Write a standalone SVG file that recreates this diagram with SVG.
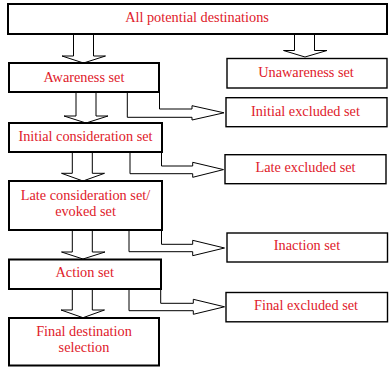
<svg xmlns="http://www.w3.org/2000/svg" width="389" height="367" viewBox="0 0 389 367">
<style>
.bx{fill:#fff;stroke:#000;stroke-width:2}
.bs{fill:#fff;stroke:#000;stroke-width:1.4}
.ar{fill:#fff;stroke:#000;stroke-width:1;stroke-linejoin:miter}
text{font-family:"Liberation Serif","Times New Roman",serif;font-size:14.3px;fill:#e0202a;text-anchor:middle}
</style>
<rect width="389" height="367" fill="#fff"/>
<g id="connectors">
<polygon class="ar" points="73.5,34 93.5,34 93.5,56 105.5,56 83.5,63 62,56 73.5,56"/>
<polygon class="ar" points="294.5,34 314.5,34 314.5,50.5 327,50.5 305,57 283.5,50.5 294.5,50.5"/>
<polygon class="ar" points="76,92 96,92 96,116 108,116 86,123 64,116 76,116"/>
<polygon class="ar" points="72.3,152 92.3,152 92.3,173.3 104.5,173.3 83,181 61.5,173.3 72.3,173.3"/>
<polygon class="ar" points="72.3,230 92.3,230 92.3,252 105,252 83,259 61.5,252 72.3,252"/>
<polygon class="ar" points="72.3,289 92.3,289 92.3,310 104.5,310 83,317.7 61,310 72.3,310"/>
<polygon class="ar" points="159.5,92 159.5,109 192,109 192,105.7 224,112.8 192,120 192,117.3 127.3,117.3 127.3,92"/>
<polygon class="ar" points="161.5,152 161.5,166 192.7,166 192.7,162.3 223.5,169.6 192.7,177.3 192.7,173.7 130,173.7 130,152"/>
<polygon class="ar" points="161.5,230 161.5,244.3 192.7,244.3 192.7,240.3 224.5,248 192.7,255.7 192.7,251.7 129,251.7 129,230"/>
<polygon class="ar" points="160.7,289 160.7,303.3 193.3,303.3 193.3,299.3 224.5,306.8 193.3,314.3 193.3,310.7 129,310.7 129,289"/>
</g>
<g id="all-potential"><rect class="bx" x="8" y="4" width="379" height="30"/><text x="197" y="22">All potential destinations</text></g>
<g id="awareness"><rect class="bx" x="9" y="63" width="150" height="29"/><text x="84" y="81.5">Awareness set</text></g>
<g id="unawareness"><rect class="bs" x="227" y="58.5" width="160" height="29.5"/><text x="306" y="77">Unawareness set</text></g>
<g id="initial-excluded"><rect class="bs" x="226" y="97.7" width="161" height="29"/><text x="305.5" y="115.5">Initial excluded set</text></g>
<g id="initial-consideration"><rect class="bx" x="9" y="123" width="153" height="29"/><text x="85.5" y="140.5">Initial consideration set</text></g>
<g id="late-excluded"><rect class="bs" x="225" y="154.7" width="161" height="29"/><text x="305.5" y="172">Late excluded set</text></g>
<g id="late-consideration"><rect class="bx" x="9" y="181" width="153" height="49"/><text x="85.5" y="199.5">Late consideration set/</text><text x="85.5" y="215.5">evoked set</text></g>
<g id="inaction"><rect class="bs" x="227" y="233" width="160.5" height="29"/><text x="307" y="250">Inaction set</text></g>
<g id="action"><rect class="bx" x="9" y="259.5" width="152" height="29.5"/><text x="84.7" y="277">Action set</text></g>
<g id="final-excluded"><rect class="bs" x="226" y="292.5" width="161.5" height="29.3"/><text x="306" y="309.5">Final excluded set</text></g>
<g id="final-destination"><rect class="bx" x="9" y="318" width="150" height="47.5"/><text x="84" y="335.5">Final destination</text><text x="84" y="352">selection</text></g>
</svg>
